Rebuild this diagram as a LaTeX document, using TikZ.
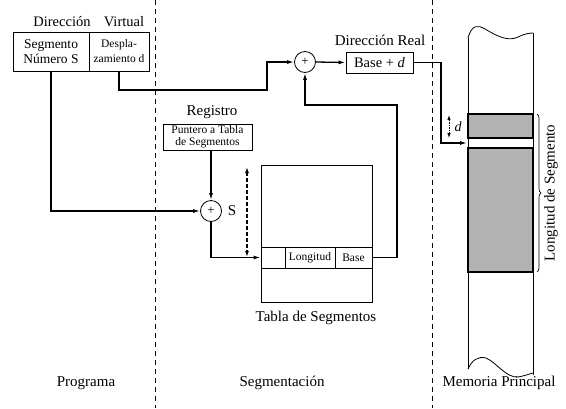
\documentclass[tikz,border=0pt]{standalone}
\usepackage{fontspec}
\setmainfont{Liberation Serif}
\usetikzlibrary{arrows.meta,decorations.pathreplacing,calc}
\begin{document}
\begin{tikzpicture}[x=1pt,y=-1pt,
  box/.style={draw,line width=0.8pt,inner sep=0pt,align=center},
  conn/.style={line width=1.3pt,-{Latex[length=7pt,width=4pt]}},
  adder/.style={draw,circle,line width=0.8pt,minimum size=21pt,inner sep=0pt,font=\fontsize{13}{13}\selectfont},
  sep/.style={line width=0.7pt,dash pattern=on 5pt off 4pt},
  lab/.style={font=\fontsize{15}{16}\selectfont,inner sep=0pt},
  mem/.style={line width=0.8pt},
  shade/.style={draw,line width=1.2pt,fill=black!30}]
\useasboundingbox (0,0) rectangle (566,408);
% separators
\coordinate (s1t) at (155,0); \coordinate (s1b) at (155,408);
\coordinate (s2t) at (432,0); \coordinate (s2b) at (432,408);
\draw[sep] (s1t) -- (s1b);
\draw[sep] (s2t) -- (s2b);
% virtual address
\node[lab,font=\fontsize{14.5}{16}\selectfont] (dir) at (62,22) {Dirección};
\node[lab,font=\fontsize{14.5}{16}\selectfont] (vir) at (124,22) {Virtual};
\node[box,minimum width=76pt,minimum height=39pt,font=\fontsize{13.5}{15}\selectfont] (seg) at (51,51.5) {Segmento\\Número S};
\node[box,minimum width=60pt,minimum height=39pt,font=\fontsize{11.5}{15}\selectfont] (desp) at (119,51.5) {Despla-\\zamiento d};
% adders
\node[adder] (add1) at (305,62) {+};
\node[adder] (addS) at (211,211) {+};
\node[lab] (slab) at (232,211) {S};
% real address
\node[lab] (dreal) at (380,40) {Dirección Real};
\node[box,minimum width=67pt,minimum height=21pt,font=\fontsize{14.5}{15}\selectfont] (base) at (379.5,62.5) {Base + \textit{d}};
% register
\node[lab] (regl) at (212,112) {Registro};
\node[box,minimum width=89pt,minimum height=26pt,font=\fontsize{11.5}{12}\selectfont] (reg) at (207.5,137) {Puntero a Tabla\\de Segmentos};
% table
\node[box,minimum width=111pt,minimum height=137pt] (tab) at (316.5,233.5) {};
\node[box,minimum width=24pt,minimum height=21pt] (c0) at (273,257.5) {};
\node[box,minimum width=50pt,minimum height=21pt,font=\fontsize{11.5}{12}\selectfont] (clong) at (310,257.5) {Longitud};
\node[box,minimum width=37pt,minimum height=21pt,font=\fontsize{11.5}{12}\selectfont] (cbase) at (353.5,257.5) {Base};
\node[lab] (tabl) at (316,318) {Tabla de Segmentos};
% dashed double arrow
\coordinate (da1) at (247,167); \coordinate (da2) at (247,257);
\draw[line width=1.3pt,dash pattern=on 4pt off 2pt,{Latex[length=6pt,width=4pt]}-{Latex[length=6pt,width=4pt]}] (da1) -- (da2);
% memory
\fill[white] (468,38) -- (533,33) -- (533,375) -- (466,369) -- cycle;
\draw[shade] (468,114) rectangle (533,138);
\draw[shade] (468,148) rectangle (533,272);
\draw[mem] (468,38) -- (468,369);
\draw[mem] (533,33) -- (533,375);
\draw[mem] (468,38) .. controls (472,24) and (478,25) .. (485,29) .. controls (497,36) and (508,42) .. (518,37) .. controls (524,34) and (529,33) .. (533,33);
\draw[mem] (468,369) .. controls (472,360) and (478,356) .. (486,358) .. controls (496,362) and (506,378) .. (518,377) .. controls (524,376) and (529,374) .. (533,373);
\coordinate (m) at (467,143);
\coordinate (dtop) at (449,115); \coordinate (dbot) at (449,138);
\draw[line width=0.8pt,dash pattern=on 1.5pt off 1pt,{Latex[length=5pt,width=3.5pt]}-{Latex[length=5pt,width=3.5pt]}] (dtop) -- (dbot);
\node[lab,font=\fontsize{14}{15}\selectfont\itshape] (dl) at (458,127) {d};
\coordinate (br1) at (537,114); \coordinate (br2) at (537,272);
\draw[line width=0.7pt,decorate,decoration={brace,amplitude=4pt}] (br1) -- (br2);
\node[lab,rotate=90] (lseg) at (551,193) {Longitud de Segmento};
% connectors
\draw[conn] (seg.south) |- (addS.west);
\draw[conn] (desp.south) |- (267,90) |- (add1.west);
\draw[conn] (add1.east) -- (base.west);
\draw[conn] (base.east) -| (441,143) -- (m);
\draw[conn] (cbase.east) -| (397,105) -| (add1.south);
\draw[conn] (reg.south -| addS.north) -- (addS.north);
\draw[conn] (addS.south) |- (c0.west);
% bottom labels
\node[lab] (prog) at (86,383) {Programa};
\node[lab] (segm) at (282,383) {Segmentación};
\node[lab] (memp) at (499,383) {Memoria Principal};
\end{tikzpicture}
\end{document}
